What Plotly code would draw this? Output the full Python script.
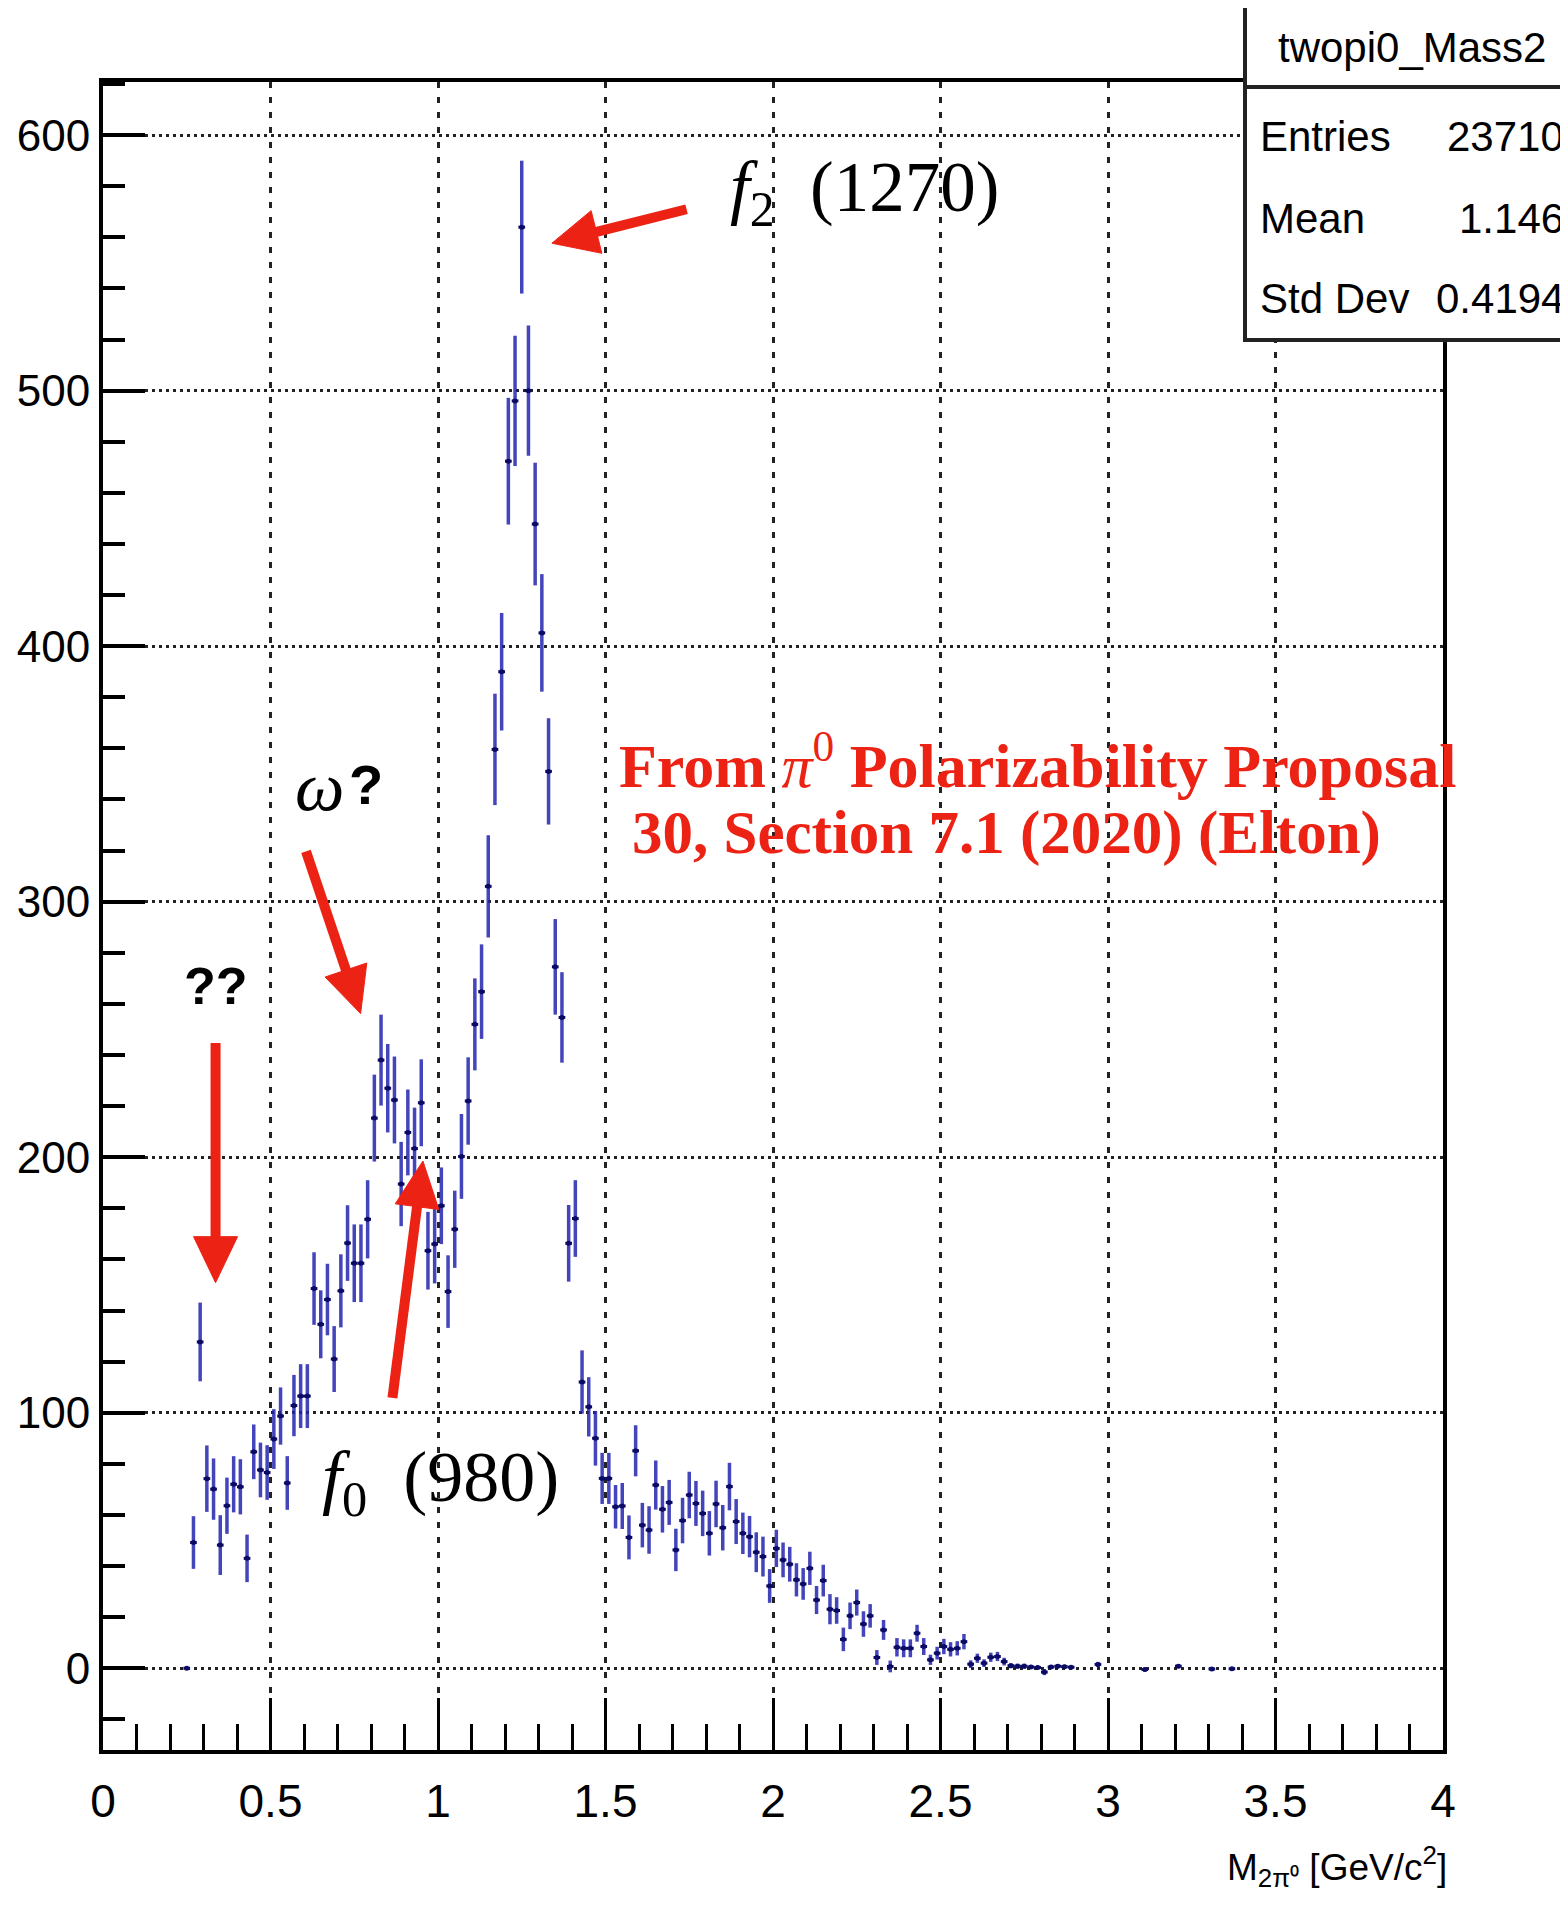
import math
import plotly.graph_objects as go

# ---- data ----
mass = [0.25, 0.27, 0.29, 0.31, 0.33, 0.35, 0.37, 0.39, 0.41, 0.43,
        0.45, 0.47, 0.49, 0.51, 0.53, 0.55, 0.57, 0.59, 0.61, 0.63,
        0.65, 0.67, 0.69, 0.71, 0.73, 0.75, 0.77, 0.79, 0.81, 0.83,
        0.85, 0.87, 0.89, 0.91, 0.93, 0.95, 0.97, 0.99, 1.01, 1.03,
        1.05, 1.07, 1.09, 1.11, 1.13, 1.15, 1.17, 1.19, 1.21, 1.23,
        1.25, 1.27, 1.29, 1.31, 1.33, 1.35, 1.37, 1.39, 1.41, 1.43,
        1.45, 1.47, 1.49, 1.51, 1.53, 1.55, 1.57, 1.59, 1.61, 1.63,
        1.65, 1.67, 1.69, 1.71, 1.73, 1.75, 1.77, 1.79, 1.81, 1.83,
        1.85, 1.87, 1.89, 1.91, 1.93, 1.95, 1.97, 1.99, 2.01, 2.03,
        2.05, 2.07, 2.09, 2.11, 2.13, 2.15, 2.17, 2.19, 2.21, 2.23,
        2.25, 2.27, 2.29, 2.31, 2.33, 2.35, 2.37, 2.39, 2.41, 2.43,
        2.45, 2.47, 2.49, 2.51, 2.53, 2.55, 2.57, 2.59, 2.61, 2.63,
        2.65, 2.67, 2.69, 2.71, 2.73, 2.75, 2.77, 2.79, 2.81, 2.83,
        2.85, 2.87, 2.89, 2.97, 3.11, 3.21, 3.31, 3.37]

counts = [0.0, 49.2, 127.7, 74.2, 70.1, 48.2, 63.6, 72.0, 71.0, 43.0,
          84.7, 77.6, 76.6, 89.7, 98.7, 72.5, 102.8, 106.5, 106.5, 148.6,
          134.6, 144.3, 121.0, 147.7, 166.4, 158.5, 158.5, 175.7, 215.3, 238.0,
          227.0, 222.4, 189.5, 209.7, 203.4, 221.3, 163.4, 166.0, 181.0, 147.4,
          171.8, 200.3, 222.0, 252.0, 264.8, 306.0, 359.6, 390.0, 472.4, 496.0,
          564.0, 500.0, 447.8, 405.2, 351.0, 274.5, 254.7, 166.3, 176.0, 112.0,
          102.3, 90.0, 74.3, 74.3, 63.2, 63.5, 51.2, 85.1, 56.0, 54.1,
          71.7, 62.2, 64.9, 46.3, 57.8, 67.8, 64.5, 60.6, 52.8, 64.3,
          55.0, 71.1, 57.4, 52.8, 51.5, 45.4, 43.7, 32.2, 46.9, 42.4,
          40.7, 34.6, 33.0, 39.1, 26.7, 34.3, 23.1, 22.6, 11.3, 20.5,
          25.7, 17.3, 20.5, 4.2, 15.0, 0.7, 8.2, 7.8, 7.8, 13.7,
          8.5, 3.3, 5.9, 8.5, 7.4, 7.8, 10.4, 1.6, 3.9, 2.0,
          4.3, 4.6, 2.6, 1.0, 0.8, 0.8, 0.5, 0.3, -1.5, 0.5,
          0.8, 0.6, 0.4, 1.5, -0.5, 0.8, -0.3, -0.2]

errors = [0.5, 10.3, 15.4, 13.0, 12.0, 11.7, 11.0, 11.0, 10.8, 9.3,
          10.7, 10.7, 10.7, 11.7, 11.2, 10.5, 12.0, 12.5, 12.5, 14.2,
          13.3, 14.0, 12.9, 14.3, 14.8, 15.2, 15.2, 15.3, 17.0, 17.8,
          17.3, 17.0, 16.5, 16.8, 16.0, 17.0, 15.2, 15.4, 15.0, 14.2,
          15.1, 16.6, 17.1, 18.0, 18.5, 20.0, 21.8, 23.0, 24.8, 25.5,
          26.0, 25.5, 24.0, 23.0, 20.8, 18.7, 17.7, 15.0, 15.0, 12.4,
          11.6, 10.7, 10.0, 10.0, 8.5, 9.0, 8.6, 10.0, 8.7, 9.3,
          9.6, 9.1, 8.8, 8.3, 8.9, 9.1, 8.8, 8.9, 8.7, 9.1,
          8.9, 9.3, 8.8, 8.1, 8.1, 7.8, 7.8, 6.6, 7.3, 6.8,
          6.8, 6.5, 6.2, 6.5, 5.5, 6.2, 5.9, 5.2, 4.6, 5.2,
          5.1, 5.0, 4.6, 2.9, 3.9, 2.3, 3.6, 3.5, 3.5, 3.3,
          3.3, 2.0, 2.5, 3.0, 2.8, 2.8, 3.0, 1.5, 1.8, 1.5,
          1.8, 1.8, 1.5, 1.0, 1.0, 1.0, 0.8, 0.8, 1.2, 0.8,
          0.8, 0.8, 0.6, 1.0, 0.8, 0.8, 0.6, 0.6]

bin_half_width = 0.01

x_tick_vals = [0, 0.5, 1, 1.5, 2, 2.5, 3, 3.5, 4]
x_tick_text = ["0", "0.5", "1", "1.5", "2", "2.5", "3", "3.5", "4"]
y_tick_vals = [0, 100, 200, 300, 400, 500, 600]
y_tick_text = ["0", "100", "200", "300", "400", "500", "600"]

stats_title = "twopi0_Mass2"
stats_labels = ["Entries", "Mean", "Std Dev"]
stats_values = ["23710", "1.146", "0.4194"]

# ---- style ----
OFF = 8                      # default page margin around the plot div
W, H = 1568 - OFF, 1910 - OFF
ML, MR, MT, MB = 95, 125, 74, 160
X_RANGE = [0, 4]
Y_RANGE = [-32.0, 620.8]
RED = "#EC2314"
ROOTFONT = "Liberation Sans, Arial, Helvetica, sans-serif"
SERIF = "Liberation Serif, Times New Roman, serif"

fig = go.Figure()
fig.add_trace(go.Scatter(
    x=mass, y=counts, mode="markers",
    marker=dict(size=5, color="#0b0b66", symbol="circle"),
    error_y=dict(type="data", array=errors, visible=True,
                 color="rgba(35,35,175,0.85)", thickness=3.5, width=0),
    error_x=dict(type="constant", value=bin_half_width, visible=True,
                 color="#0b0b66", thickness=3, width=0),
    showlegend=False, cliponaxis=True,
))

fig.update_layout(
    width=W, height=H, autosize=False,
    margin=dict(l=ML, r=MR, t=MT, b=MB, autoexpand=False),
    paper_bgcolor="white", plot_bgcolor="white",
    showlegend=False,
    font=dict(family=ROOTFONT, color="black"),
)

fig.update_xaxes(
    range=X_RANGE, tickvals=x_tick_vals, ticktext=x_tick_text,
    ticks="inside", ticklen=52, tickwidth=2.5, tickcolor="black",
    minor=dict(ticks="inside", ticklen=26, dtick=0.1, tick0=0,
               tickwidth=2.5, tickcolor="black", showgrid=False),
    showgrid=True, gridcolor="#222222", gridwidth=2.5, griddash="6px,9px",
    showline=True, linecolor="black", linewidth=4, mirror=True,
    zeroline=False, ticklabelstandoff=8, automargin=False,
    tickfont=dict(family=ROOTFONT, size=46, color="black"),
)
fig.update_yaxes(
    range=Y_RANGE, tickvals=y_tick_vals, ticktext=y_tick_text,
    ticks="inside", ticklen=42, tickwidth=4, tickcolor="black",
    minor=dict(ticks="inside", ticklen=22, dtick=20, tick0=0,
               tickwidth=4, tickcolor="black", showgrid=False),
    showgrid=True, gridcolor="#222222", gridwidth=2.5, griddash="3px,4px",
    showline=True, linecolor="black", linewidth=4, mirror=True,
    zeroline=False, automargin=False,
    tickfont=dict(family=ROOTFONT, size=44, color="black"),
)

# page pixel -> paper coordinates
def px2x(px):
    return (px - OFF - ML) / (W - ML - MR)

def py2y(py):
    return (H - MB - (py - OFF)) / (H - MT - MB)

# statistics box
fig.add_shape(type="rect", xref="paper", yref="paper",
              x0=px2x(1245), x1=px2x(1600), y0=py2y(340), y1=py2y(3),
              line=dict(color="#222222", width=4), fillcolor="white", layer="above")
fig.add_shape(type="line", xref="paper", yref="paper",
              x0=px2x(1245), x1=px2x(1600), y0=py2y(87), y1=py2y(87),
              line=dict(color="#222222", width=4), layer="above")
fig.add_annotation(xref="paper", yref="paper", x=px2x(1412), y=py2y(48),
                   text=stats_title, showarrow=False, xanchor="center", yanchor="middle",
                   font=dict(family=ROOTFONT, size=42, color="black"))
row_centers = [136, 218, 299]
for lab, val, yc in zip(stats_labels, stats_values, row_centers):
    fig.add_annotation(xref="paper", yref="paper", x=px2x(1258), y=py2y(yc),
                       text=lab, showarrow=False, xanchor="left", yanchor="middle",
                       font=dict(family=ROOTFONT, size=42, color="black"))
    fig.add_annotation(xref="paper", yref="paper", x=px2x(1566), y=py2y(yc),
                       text=val, showarrow=False, xanchor="right", yanchor="middle",
                       font=dict(family=ROOTFONT, size=42, color="black"))

# x-axis title
fig.add_annotation(xref="paper", yref="paper", x=px2x(1449), y=py2y(1866),
                   text="M<sub>2π⁰</sub> [GeV/c<sup>2</sup>]", showarrow=False,
                   xanchor="right", yanchor="middle",
                   font=dict(family=ROOTFONT, size=37, color="black"))

# text annotations
fig.add_annotation(x=1.865, y=577.5, xref="x", yref="y",
                   text="<i>f</i><sub>2</sub>  (1270)", showarrow=False,
                   xanchor="left", yanchor="middle",
                   font=dict(family=SERIF, size=71, color="black"))
fig.add_annotation(x=0.648, y=73, xref="x", yref="y",
                   text="<i>f</i><sub>0</sub>  (980)", showarrow=False,
                   xanchor="left", yanchor="middle",
                   font=dict(family=SERIF, size=72, color="black"))
fig.add_annotation(x=0.567, y=345, xref="x", yref="y",
                   text="<i>ω</i>", showarrow=False,
                   xanchor="left", yanchor="middle",
                   font=dict(family=SERIF, size=70, color="black"))
fig.add_annotation(x=0.728, y=346, xref="x", yref="y",
                   text="<b>?</b>", showarrow=False,
                   xanchor="left", yanchor="middle",
                   font=dict(family="Liberation Sans, Arial, sans-serif", size=56, color="black"))
fig.add_annotation(x=0.236, y=267, xref="x", yref="y",
                   text="<b>??</b>", showarrow=False,
                   xanchor="left", yanchor="middle",
                   font=dict(family="Liberation Sans, Arial, sans-serif", size=52, color="black"))
fig.add_annotation(x=1.534, y=355, xref="x", yref="y",
                   text="<b>From </b><i>π</i><sup>0</sup><b> Polarizability Proposal</b>",
                   showarrow=False, xanchor="left", yanchor="middle",
                   font=dict(family=SERIF, size=62, color=RED))
fig.add_annotation(x=1.572, y=327, xref="x", yref="y",
                   text="<b>30, Section 7.1 (2020) (Elton)</b>",
                   showarrow=False, xanchor="left", yanchor="middle",
                   font=dict(family=SERIF, size=61, color=RED))

# arrows drawn as shapes (tip x, tip y, tail x, tail y) in data units
arrows = [
    (1.340, 557.7, 1.742, 571.0),
    (0.769, 256.2, 0.606, 319.7),
    (0.336, 150.9, 0.336, 244.7),
    (0.955, 198.5, 0.864, 105.8),
]
SX = (W - ML - MR) / (X_RANGE[1] - X_RANGE[0])     # px per x unit
SY = (H - MT - MB) / (Y_RANGE[1] - Y_RANGE[0])     # px per y unit
HEAD_LEN, HEAD_HALF, SHAFT = 46, 22, 10
for (tx, ty, sx, sy) in arrows:
    dxp, dyp = (tx - sx) * SX, (ty - sy) * SY
    L = math.hypot(dxp, dyp)
    ux, uy = dxp / L, dyp / L
    nx, ny = -uy, ux
    bx, by = tx * SX - ux * HEAD_LEN, ty * SY - uy * HEAD_LEN
    # shaft
    fig.add_shape(type="line", xref="x", yref="y",
                  x0=sx, y0=sy, x1=(bx + ux * 4) / SX, y1=(by + uy * 4) / SY,
                  line=dict(color=RED, width=SHAFT), layer="above")
    # head
    p1 = (tx, ty)
    p2 = ((bx + nx * HEAD_HALF) / SX, (by + ny * HEAD_HALF) / SY)
    p3 = ((bx - nx * HEAD_HALF) / SX, (by - ny * HEAD_HALF) / SY)
    path = "M {} {} L {} {} L {} {} Z".format(p1[0], p1[1], p2[0], p2[1], p3[0], p3[1])
    fig.add_shape(type="path", xref="x", yref="y", path=path,
                  fillcolor=RED, line=dict(color=RED, width=1), layer="above")

fig.write_html("out.html")
